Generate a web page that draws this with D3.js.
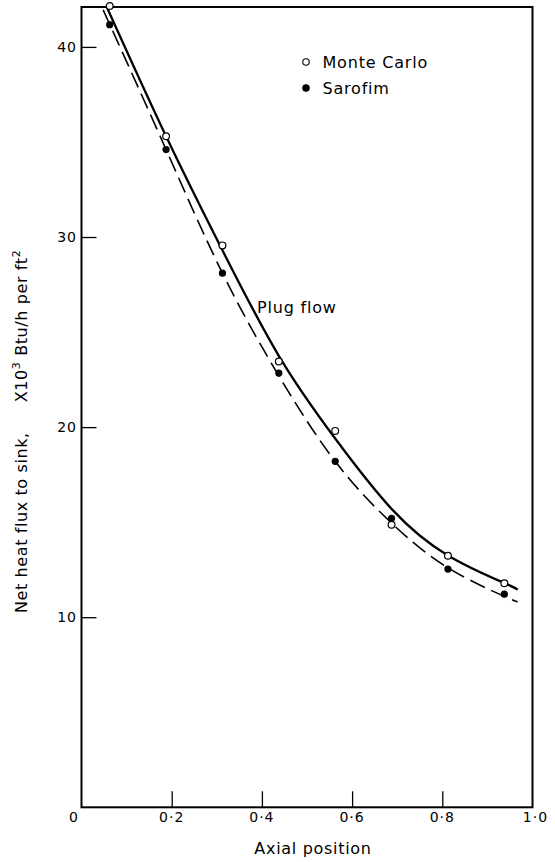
<!DOCTYPE html>
<html>
<head>
<meta charset="utf-8">
<script src="https://cdn.jsdelivr.net/npm/d3@7"></script>
<style>
  body { margin: 0; background: #fff; }
  svg { display: block; font-family: "DejaVu Sans", sans-serif; }
</style>
</head>
<body>
<svg width="555" height="862"></svg>
<script>
// values
const axialPositions = [0.0625, 0.1875, 0.3125, 0.4375, 0.5625, 0.6875, 0.8125, 0.9375];
const monteCarlo = [42.15, 35.3, 29.56, 23.45, 19.8, 14.86, 13.23, 11.79];
const sarofim = [41.17, 34.6, 28.1, 22.84, 18.2, 15.2, 12.53, 11.21];

// hand drawn curves
const plugFlowX = [0.056, 0.1875, 0.3125, 0.4375, 0.5625, 0.6875, 0.8125, 0.9375, 0.967];
const plugFlowY = [42.1, 35.3, 29.3, 23.75, 19.4, 15.7, 13.25, 11.8, 11.45];
const sarofimCurveX = [0.048, 0.1875, 0.3125, 0.4375, 0.5625, 0.6875, 0.8125, 0.9375, 0.967];
const sarofimCurveY = [41.95, 34.6, 28.1, 22.7, 18.2, 14.95, 12.6, 11.1, 10.82];

const xTicks = [0, 0.2, 0.4, 0.6, 0.8, 1.0];
const xTickLabels = ['0', '0·2', '0·4', '0·6', '0·8', '1·0'];
const yTicks = [10, 20, 30, 40];

(function (d3) {
    'use strict';
    const svg = d3.select('svg');
    const left = 81.5, right = 532.5, top = 7, bottom = 807.3;

    const x = d3.scaleLinear().domain([0, 1]).range([left, right]);
    const y = d3.scaleLinear().domain([0, 42.1]).range([bottom, top]);

    svg.append('defs').append('clipPath').attr('id', 'plot')
        .append('rect')
            .attr('x', left).attr('y', top)
            .attr('width', right - left).attr('height', bottom - top);

    // inward ticks
    const inner = xTicks.filter(d => d > 0 && d < 1);
    svg.append('g')
        .attr('transform', `translate(0, ${bottom})`)
        .call(d3.axisTop(x).tickValues(inner).tickSize(16).tickFormat(''))
        .call(g => g.select('.domain').remove())
        .selectAll('line').attr('stroke', '#000').attr('stroke-width', 1.3);

    svg.append('g')
        .attr('transform', `translate(${left}, 0)`)
        .call(d3.axisRight(y).tickValues(yTicks).tickSize(15).tickFormat(''))
        .call(g => g.select('.domain').remove())
        .selectAll('line').attr('stroke', '#000').attr('stroke-width', 1.3);

    // frame
    svg.append('rect')
        .attr('x', left).attr('y', top)
        .attr('width', right - left).attr('height', bottom - top)
        .attr('fill', 'none')
        .attr('stroke', '#000')
        .attr('stroke-width', 2);

    // tick labels
    svg.append('g').selectAll('text')
        .data(xTicks)
        .join('text')
            .attr('x', (d, i) => x(d) + (i === 0 ? -7.5 : i === xTicks.length - 1 ? 3 : 0))
            .attr('y', 822)
            .attr('text-anchor', 'middle')
            .attr('font-size', 14)
            .attr('letter-spacing', 1)
            .text((d, i) => xTickLabels[i]);

    svg.append('g').selectAll('text')
        .data(yTicks)
        .join('text')
            .attr('x', 77)
            .attr('y', d => y(d))
            .attr('dy', '0.36em')
            .attr('text-anchor', 'end')
            .attr('font-size', 14)
            .attr('letter-spacing', 1)
            .text(d => d);

    // axis titles
    svg.append('text')
        .attr('x', 313)
        .attr('y', 854)
        .attr('text-anchor', 'middle')
        .attr('font-size', 16)
        .attr('letter-spacing', 0.7)
        .text('Axial position');

    const yTitle = svg.append('text')
        .attr('transform', 'translate(27, 613) rotate(-90)')
        .attr('font-size', 16)
        .attr('letter-spacing', 0.6);
    yTitle.append('tspan').text('Net heat flux to sink,');
    yTitle.append('tspan').attr('dx', 30).text('X10');
    yTitle.append('tspan').attr('dy', -7).attr('font-size', 11).text('3');
    yTitle.append('tspan').attr('dy', 7).text(' Btu/h per ft');
    yTitle.append('tspan').attr('dy', -7).attr('font-size', 11).text('2');

    // curves
    const line = d3.line()
        .x(d => x(d[0]))
        .y(d => y(d[1]))
        .curve(d3.curveNatural);

    svg.append('path')
        .datum(sarofimCurveX.map((d, i) => [d, sarofimCurveY[i]]))
        .attr('clip-path', 'url(#plot)')
        .attr('d', line)
        .attr('fill', 'none')
        .attr('stroke', '#000')
        .attr('stroke-width', 1.6)
        .attr('stroke-dasharray', '16,7');

    svg.append('path')
        .datum(plugFlowX.map((d, i) => [d, plugFlowY[i]]))
        .attr('clip-path', 'url(#plot)')
        .attr('d', line)
        .attr('fill', 'none')
        .attr('stroke', '#000')
        .attr('stroke-width', 2.3);

    // points
    svg.append('g').selectAll('circle')
        .data(sarofim)
        .join('circle')
            .attr('cx', (d, i) => x(axialPositions[i]))
            .attr('cy', d => y(d))
            .attr('r', 3.6)
            .attr('fill', '#000');

    svg.append('g').selectAll('circle')
        .data(monteCarlo)
        .join('circle')
            .attr('cx', (d, i) => x(axialPositions[i]))
            .attr('cy', d => y(d))
            .attr('r', 3.4)
            .attr('fill', '#fff')
            .attr('stroke', '#000')
            .attr('stroke-width', 1.2);

    svg.append('text')
        .attr('x', 257)
        .attr('y', 313)
        .attr('font-size', 16)
        .attr('letter-spacing', 0.8)
        .text('Plug flow');

    // legend
    const legend = svg.append('g').attr('transform', 'translate(306, 62)');
    const items = ['Monte Carlo', 'Sarofim'];
    const rows = legend.selectAll('g')
        .data(items)
        .join('g')
            .attr('transform', (d, i) => `translate(0, ${i * 26})`);
    rows.append('circle')
        .attr('r', 3.2)
        .attr('fill', (d, i) => i === 0 ? '#fff' : '#000')
        .attr('stroke', '#000')
        .attr('stroke-width', 1.1);
    rows.append('text')
        .attr('x', 16.5)
        .attr('dy', '0.36em')
        .attr('font-size', 16)
        .attr('letter-spacing', 0.8)
        .text(d => d);
}(d3));
</script>
</body>
</html>
